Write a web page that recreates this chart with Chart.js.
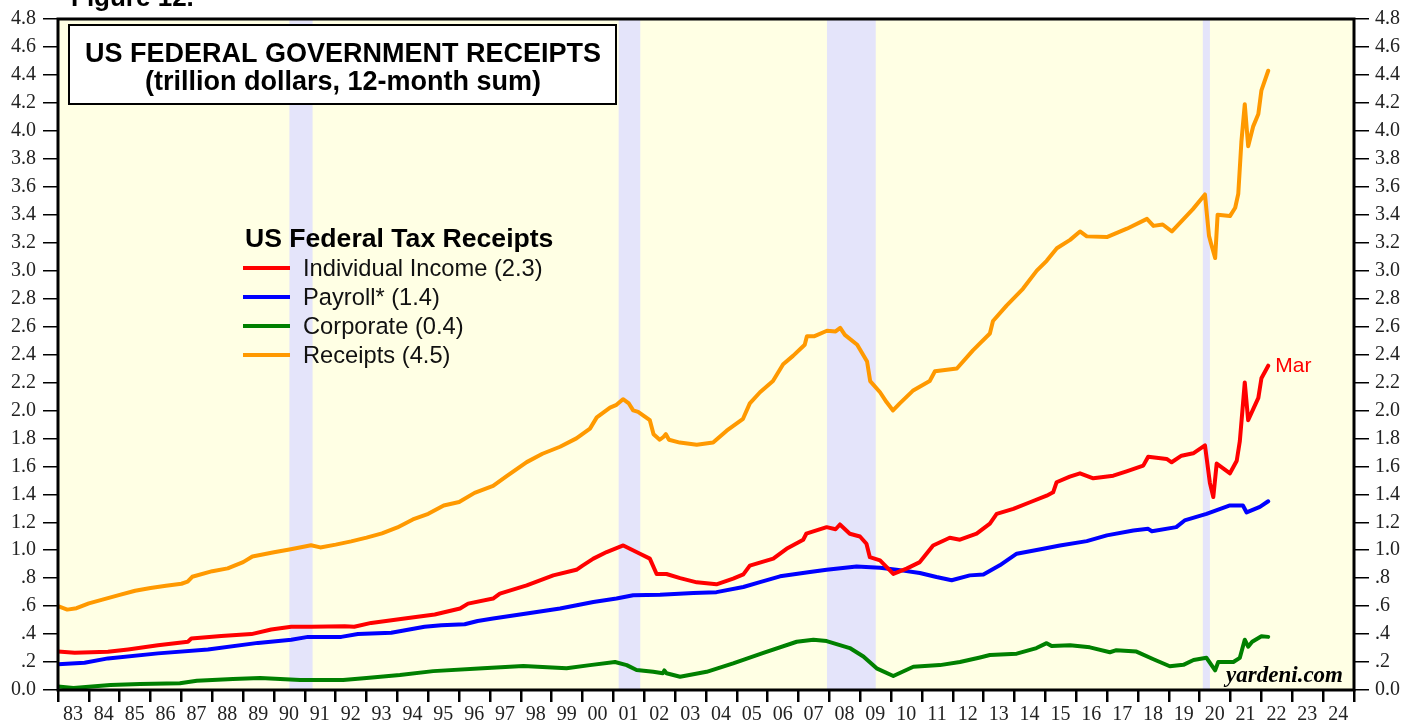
<!DOCTYPE html>
<html><head><meta charset="utf-8">
<script src="https://cdn.jsdelivr.net/npm/chart.js@4.4.1/dist/chart.umd.min.js"></script>
<style>html,body{margin:0;padding:0;background:#fff;}#wrap{width:1419px;height:721px;position:relative;}</style>
</head><body><div id="wrap"><canvas id="c"></canvas></div>
<script>
const yearLabels = ['83','84','85','86','87','88','89','90','91','92','93','94','95','96','97','98','99','00','01','02','03','04','05','06','07','08','09','10','11','12','13','14','15','16','17','18','19','20','21','22','23','24'];
const yTickLabels = ['0.0','.2','.4','.6','.8','1.0','1.2','1.4','1.6','1.8','2.0','2.2','2.4','2.6','2.8','3.0','3.2','3.4','3.6','3.8','4.0','4.2','4.4','4.6','4.8'];
const recessions = [[1990.5,1991.25],[2001.17,2001.87],[2007.92,2009.5],[2020.1,2020.33]];

const indivDates = [1983.0,1983.54,1984.62,1985.27,1986.24,1987.21,1987.32,1988.29,1989.27,1989.91,1990.56,1991.21,1992.29,1992.6,1993.15,1994.23,1995.21,1996.03,1996.29,1997.1,1997.32,1998.19,1999.05,1999.8,2000.0,2000.35,2000.78,2001.32,2001.86,2002.18,2002.4,2002.72,2003.16,2003.7,2004.34,2004.88,2005.21,2005.42,2006.18,2006.61,2007.15,2007.25,2007.91,2008.2,2008.34,2008.66,2008.99,2009.2,2009.31,2009.64,2010.07,2010.5,2010.93,2011.36,2011.9,2012.23,2012.77,2013.2,2013.42,2013.96,2014.5,2015.04,2015.25,2015.36,2015.79,2016.12,2016.55,2017.2,2017.63,2018.17,2018.33,2018.93,2019.09,2019.41,2019.79,2020.17,2020.33,2020.44,2020.55,2020.98,2021.2,2021.3,2021.46,2021.57,2021.9,2022.0,2022.22];
const indivValues = [0.275,0.266,0.273,0.29,0.32,0.345,0.368,0.387,0.40,0.433,0.452,0.452,0.456,0.452,0.48,0.511,0.54,0.583,0.618,0.654,0.69,0.749,0.82,0.86,0.89,0.94,0.987,1.034,0.975,0.94,0.83,0.83,0.80,0.77,0.756,0.797,0.827,0.89,0.94,1.01,1.075,1.118,1.165,1.15,1.184,1.118,1.098,1.046,0.95,0.927,0.83,0.868,0.915,1.034,1.089,1.075,1.118,1.19,1.26,1.296,1.343,1.39,1.414,1.486,1.526,1.55,1.514,1.533,1.564,1.605,1.669,1.653,1.629,1.676,1.693,1.75,1.48,1.38,1.62,1.55,1.64,1.78,2.20,1.93,2.09,2.23,2.32];

const payrollDates = [1983.0,1983.86,1984.62,1986.24,1987.86,1989.48,1990.56,1991.1,1992.18,1992.72,1993.8,1994.88,1995.42,1996.18,1996.6,1997.1,1998.19,1999.27,2000.35,2001.1,2001.64,2002.51,2003.59,2004.34,2005.21,2005.75,2006.4,2007.37,2007.91,2008.88,2009.64,2010.17,2010.93,2011.47,2011.96,2012.55,2012.99,2013.52,2014.07,2014.93,2015.47,2016.34,2016.99,2017.85,2018.33,2018.45,2019.24,2019.51,2020.22,2020.98,2021.4,2021.52,2021.95,2022.22];
const payrollValues = [0.185,0.195,0.226,0.262,0.29,0.337,0.36,0.38,0.38,0.40,0.409,0.452,0.464,0.47,0.494,0.511,0.547,0.583,0.63,0.654,0.678,0.682,0.694,0.70,0.737,0.772,0.813,0.844,0.86,0.884,0.874,0.861,0.837,0.808,0.785,0.82,0.827,0.892,0.975,1.01,1.034,1.065,1.106,1.141,1.153,1.136,1.165,1.213,1.26,1.32,1.32,1.27,1.31,1.35];

const corpDates = [1983.0,1983.5,1984.7,1985.66,1986.95,1987.5,1988.67,1989.55,1990.85,1992.24,1993.0,1994.08,1995.16,1996.77,1998.08,1999.48,2000.24,2001.05,2001.43,2001.75,2002.29,2002.6,2002.65,2002.72,2003.16,2004.02,2004.88,2005.86,2006.94,2007.48,2007.91,2008.66,2009.1,2009.53,2010.07,2010.72,2011.58,2012.23,2012.88,2013.2,2014.07,2014.71,2015.04,2015.2,2015.8,2016.44,2017.09,2017.3,2017.95,2018.5,2019.03,2019.47,2019.8,2020.22,2020.5,2020.6,2021.09,2021.3,2021.46,2021.57,2021.7,2022.0,2022.22];
const corpValues = [0.025,0.015,0.035,0.043,0.048,0.066,0.078,0.085,0.071,0.071,0.085,0.107,0.135,0.155,0.171,0.155,0.178,0.20,0.178,0.143,0.13,0.12,0.14,0.12,0.095,0.13,0.19,0.266,0.345,0.36,0.35,0.30,0.24,0.155,0.10,0.166,0.178,0.20,0.233,0.25,0.26,0.30,0.335,0.315,0.32,0.305,0.27,0.285,0.275,0.22,0.17,0.18,0.215,0.23,0.14,0.20,0.20,0.23,0.36,0.31,0.345,0.385,0.38];

const receiptsDates = [1983.0,1983.3,1983.6,1984.0,1984.5,1985.0,1985.5,1986.0,1986.5,1987.0,1987.2,1987.35,1988.0,1988.5,1989.0,1989.3,1990.0,1990.5,1991.0,1991.2,1991.5,1992.0,1992.5,1993.0,1993.5,1994.0,1994.5,1995.0,1995.5,1996.0,1996.5,1997.1,1997.54,1998.19,1998.7,1999.27,1999.8,2000.24,2000.46,2000.89,2001.1,2001.31,2001.5,2001.64,2001.8,2002.18,2002.3,2002.5,2002.62,2002.7,2002.8,2003.15,2003.7,2004.23,2004.67,2005.2,2005.42,2005.75,2006.17,2006.5,2006.82,2007.2,2007.27,2007.5,2007.92,2008.2,2008.35,2008.5,2008.9,2009.22,2009.32,2009.64,2009.85,2010.06,2010.28,2010.7,2011.25,2011.42,2012.13,2012.65,2013.2,2013.3,2013.74,2014.27,2014.72,2015.04,2015.37,2015.8,2016.12,2016.34,2016.99,2017.64,2018.29,2018.5,2018.8,2019.1,2019.78,2020.17,2020.3,2020.36,2020.5,2020.58,2020.98,2021.15,2021.25,2021.35,2021.46,2021.57,2021.73,2021.9,2022.0,2022.22];
const receiptsValues = [0.60,0.575,0.585,0.62,0.65,0.68,0.71,0.73,0.745,0.76,0.775,0.81,0.85,0.87,0.915,0.955,0.985,1.005,1.027,1.035,1.02,1.04,1.063,1.09,1.12,1.163,1.22,1.26,1.32,1.345,1.41,1.46,1.53,1.63,1.69,1.74,1.80,1.87,1.95,2.02,2.04,2.08,2.05,2.0,1.99,1.93,1.83,1.79,1.81,1.83,1.79,1.77,1.755,1.77,1.855,1.94,2.05,2.13,2.21,2.33,2.39,2.47,2.53,2.53,2.57,2.565,2.59,2.54,2.47,2.35,2.21,2.13,2.06,2.00,2.05,2.14,2.21,2.28,2.30,2.43,2.55,2.64,2.75,2.87,3.0,3.07,3.16,3.22,3.28,3.245,3.24,3.30,3.37,3.32,3.33,3.28,3.44,3.545,3.25,3.2,3.09,3.40,3.39,3.45,3.55,3.92,4.19,3.89,4.03,4.12,4.29,4.43];

function pts(d, v){ return d.map((x,i)=>({x:x, y:v[i]})); }

const decor = {
  id:'decor',
  beforeDraw(chart){
    const {ctx, chartArea:a, scales:{x}} = chart;
    ctx.save();
    ctx.fillStyle = '#FFFFE4';
    ctx.fillRect(a.left, a.top, a.right-a.left, a.bottom-a.top);
    ctx.fillStyle = '#E4E4FA';
    recessions.forEach(r=>{
      const x1 = x.getPixelForValue(r[0]), x2 = x.getPixelForValue(r[1]);
      ctx.fillRect(x1, a.top, x2-x1, a.bottom-a.top);
    });
    ctx.restore();
  },
  afterDraw(chart){
    const {ctx, chartArea:a, scales:{x, y}} = chart;
    ctx.save();
    ctx.strokeStyle = '#000'; ctx.lineWidth = 3;
    ctx.strokeRect(a.left, a.top, a.right-a.left, a.bottom-a.top);
    ctx.fillStyle = '#000';
    ctx.font = 'bold 26px "Liberation Sans", Arial, sans-serif';
    ctx.textAlign = 'left'; ctx.textBaseline = 'alphabetic';
    ctx.fillText('Figure 12.', 71, 6);
    ctx.fillStyle = '#fff';
    ctx.fillRect(69, 25, 547, 79);
    ctx.lineWidth = 2; ctx.strokeStyle = '#000';
    ctx.strokeRect(69, 25, 547, 79);
    ctx.fillStyle = '#000'; ctx.textAlign = 'center';
    ctx.font = 'bold 27px "Liberation Sans", Arial, sans-serif';
    ctx.fillText('US FEDERAL GOVERNMENT RECEIPTS', 343, 62);
    ctx.fillText('(trillion dollars, 12-month sum)', 343, 90);
    ctx.textAlign = 'left';
    ctx.font = 'bold 26.6px "Liberation Sans", Arial, sans-serif';
    ctx.fillText('US Federal Tax Receipts', 245, 247);
    ctx.font = '23.7px "Liberation Sans", Arial, sans-serif';
    chart.data.datasets.forEach((ds, i)=>{
      const cy = 268 + i*29;
      ctx.strokeStyle = ds.borderColor; ctx.lineWidth = 4; ctx.lineCap = 'butt';
      ctx.beginPath(); ctx.moveTo(243, cy); ctx.lineTo(290, cy); ctx.stroke();
      ctx.fillStyle = '#111';
      ctx.fillText(ds.label, 303, cy + 8);
    });
    const last = indivDates.length - 1;
    ctx.fillStyle = '#FF0000';
    ctx.font = '21px "Liberation Sans", Arial, sans-serif';
    ctx.textBaseline = 'middle';
    ctx.fillText('Mar', x.getPixelForValue(indivDates[last]) + 7, y.getPixelForValue(indivValues[last]) + 1);
    ctx.fillStyle = '#000';
    ctx.textAlign = 'right'; ctx.textBaseline = 'alphabetic';
    ctx.font = 'bold italic 23px "Liberation Serif", "Times New Roman", serif';
    ctx.fillText('yardeni.com', 1343, 682);
    ctx.restore();
  }
};

const tickFont = {family:'"Liberation Serif", "Times New Roman", serif', size:20};
const yFmt = v => yTickLabels[Math.round(v*5)] ?? '';

new Chart(document.getElementById('c'), {
  type:'line',
  data:{
    datasets:[
      {label:'Individual Income (2.3)', data:pts(indivDates, indivValues), borderColor:'#FF0000'},
      {label:'Payroll* (1.4)', data:pts(payrollDates, payrollValues), borderColor:'#0000FF'},
      {label:'Corporate (0.4)', data:pts(corpDates, corpValues), borderColor:'#008000'},
      {label:'Receipts (4.5)', data:pts(receiptsDates, receiptsValues), borderColor:'#FF9900'}
    ].map(d=>Object.assign(d, {borderWidth:4, pointRadius:0, tension:0, fill:false, borderJoinStyle:'round', borderCapStyle:'round'}))
  },
  options:{
    responsive:true, maintainAspectRatio:false, animation:false,
    layout:{padding:{top:17, left:0, right:0, bottom:0}},
    plugins:{legend:{display:false}, tooltip:{enabled:false}},
    scales:{
      x:{type:'linear', min:1983, max:2025,
        afterFit(s){ s.height = 31; },
        border:{display:false},
        grid:{drawOnChartArea:false, drawTicks:true, tickLength:12, color:'#000', lineWidth:2.5},
        ticks:{stepSize:1, autoSkip:false, maxRotation:0, minRotation:0, padding:1, labelOffset:15,
          font:tickFont, color:'#222',
          callback:(v)=> yearLabels[Math.round(v)-1983] ?? ''}
      },
      y:{type:'linear', position:'left', min:0, max:4.8,
        afterFit(s){ s.width = 58; },
        border:{display:false},
        grid:{drawOnChartArea:false, drawTicks:true, tickLength:15, color:'#000', lineWidth:1.5},
        ticks:{stepSize:0.2, autoSkip:false, padding:7, font:tickFont, color:'#222', callback:yFmt}
      },
      y2:{type:'linear', position:'right', min:0, max:4.8,
        afterFit(s){ s.width = 65; },
        border:{display:false},
        grid:{drawOnChartArea:false, drawTicks:true, tickLength:15, color:'#000', lineWidth:1.5},
        ticks:{stepSize:0.2, autoSkip:false, padding:6, font:tickFont, color:'#222', callback:yFmt}
      }
    }
  },
  plugins:[decor]
});
</script></body></html>
